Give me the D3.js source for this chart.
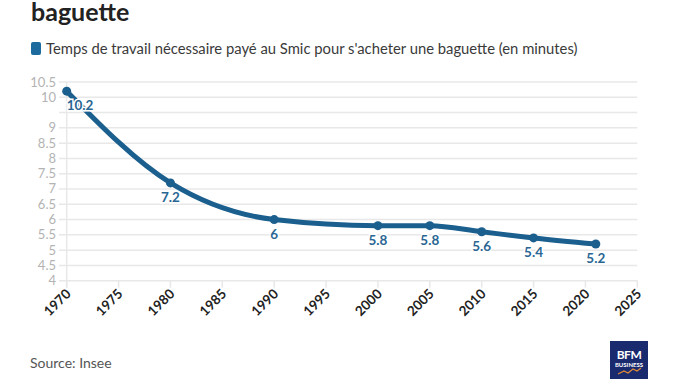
<!DOCTYPE html>
<html>
<head>
<meta charset="utf-8">
<style>
  body { margin: 0; background: #fff; font-family: "Lato", "Noto Sans", sans-serif; }
  .grid line { stroke: #e8e8e8; stroke-width: 1.5; }
  .ylab { fill: #b3b3b3; font-size: 13px; text-anchor: end; }
  .xlab { fill: #222; font-size: 13.5px; font-weight: bold; text-anchor: end; }
  .line { fill: none; stroke: #1b5f8e; stroke-width: 5px; stroke-linecap: round; }
  .vlab { fill: #2a6693; font-size: 13.5px; font-weight: bold; stroke: #fff; stroke-width: 3px; paint-order: stroke; }
</style>
</head>
<body>
<svg width="692" height="389"></svg>
<script src="https://cdn.jsdelivr.net/npm/d3@7"></script>
<script>
var years = [1970, 1980, 1990, 2000, 2005, 2010, 2015, 2021];
var minutes = [10.2, 7.2, 6, 5.8, 5.8, 5.6, 5.4, 5.2];
var yTicks = [4, 4.5, 5, 5.5, 6, 6.5, 7, 7.5, 8, 8.5, 9, 9.5, 10, 10.5];
var yTickLabels = ["4", "4.5", "5", "5.5", "6", "6.5", "7", "7.5", "8", "8.5", "9", "", "10", "10.5"];
var xTicks = [1970, 1975, 1980, 1985, 1990, 1995, 2000, 2005, 2010, 2015, 2020, 2025];

var data = years.map(function(y, i) { return {year: y, value: minutes[i]}; });

var svg = d3.select("svg");

// title (first line is cut off above the frame)
svg.append("text")
    .attr("x", 31).attr("y", 21)
    .attr("font-size", "25px").attr("font-weight", "bold").attr("fill", "#222")
    .text("baguette");

// legend
svg.append("rect")
    .attr("x", 31).attr("y", 42).attr("width", 10).attr("height", 13)
    .attr("rx", 2).attr("fill", "#1c6a9e");
svg.append("text")
    .attr("x", 46).attr("y", 54)
    .attr("font-size", "14.8px").attr("fill", "#3a3a3a")
    .text("Temps de travail nécessaire payé au Smic pour s'acheter une baguette (en minutes)");

var x = d3.scaleLinear().domain([1970, 2025]).range([66.7, 637.3]);
var y = d3.scaleLinear().domain([4, 10.5]).range([280.7, 82]);

// gridlines
var grid = svg.append("g").attr("class", "grid");
grid.selectAll(".h").data(yTicks).enter().append("line")
    .attr("x1", 59).attr("x2", x(2025))
    .attr("y1", function(d) { return y(d); })
    .attr("y2", function(d) { return y(d); });
grid.append("line")
    .attr("x1", x(1970)).attr("x2", x(1970))
    .attr("y1", y(10.5)).attr("y2", y(4) + 7);
grid.selectAll(".t").data(xTicks).enter().append("line")
    .attr("x1", function(d) { return x(d); })
    .attr("x2", function(d) { return x(d); })
    .attr("y1", y(4)).attr("y2", y(4) + 7);

// y labels
svg.selectAll(".ylab").data(yTicks).enter().append("text")
    .attr("class", "ylab")
    .attr("x", 56)
    .attr("y", function(d) { return y(d) + 4.5; })
    .text(function(d, i) { return yTickLabels[i]; });

// x labels, rotated
svg.selectAll(".xlab").data(xTicks).enter().append("text")
    .attr("class", "xlab")
    .attr("transform", function(d) { return "translate(" + (x(d) + 5) + "," + (y(4) + 14) + ") rotate(-45)"; })
    .text(function(d) { return d; });

var valueline = d3.line()
    .x(function(d) { return x(d.year); })
    .y(function(d) { return y(d.value); })
    .curve(d3.curveMonotoneX);

svg.append("path").attr("class", "line").attr("d", valueline(data));

svg.selectAll("circle").data(data).enter().append("circle")
    .attr("fill", "#1b5f8e")
    .attr("r", 4.5)
    .attr("cx", function(d) { return x(d.year); })
    .attr("cy", function(d) { return y(d.value); });

svg.selectAll(".vlab").data(data).enter().append("text")
    .attr("class", "vlab")
    .attr("text-anchor", function(d, i) { return i == 0 ? "start" : "middle"; })
    .attr("x", function(d) { return x(d.year); })
    .attr("y", function(d) { return y(d.value) + 19; })
    .text(function(d) { return d.value; });

// source
svg.append("text")
    .attr("x", 30).attr("y", 368)
    .attr("font-size", "14px").attr("fill", "#555")
    .text("Source: Insee");

// BFM logo
var logo = svg.append("g").attr("transform", "translate(610,341)");
logo.append("rect").attr("width", 38).attr("height", 38).attr("fill", "#1a2a6e");
logo.append("text").attr("x", 19).attr("y", 18).attr("text-anchor", "middle")
    .attr("font-size", "12px").attr("font-weight", "bold").attr("fill", "#fff")
    .attr("letter-spacing", "-0.5").text("BFM");
logo.append("text").attr("x", 19).attr("y", 26).attr("text-anchor", "middle")
    .attr("font-size", "6px").attr("font-weight", "bold").attr("fill", "#fff")
    .text("BUSINESS");
logo.append("path").attr("d", "M8,33 L14,30 L18,32 L23,28 L27,30 L31,27")
    .attr("fill", "none").attr("stroke", "#e08a3c").attr("stroke-width", 1.2);
</script>
</body>
</html>
